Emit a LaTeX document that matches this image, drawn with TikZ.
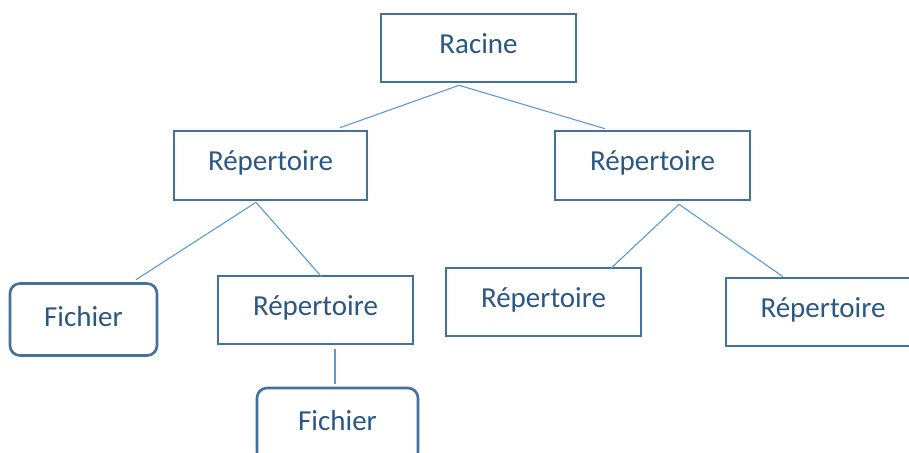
\documentclass[tikz,border=0pt]{standalone}
\usepackage{fontspec}
\setmainfont{Carlito}
\usetikzlibrary{calc}
\definecolor{boxline}{HTML}{41719C}
\definecolor{boxtext}{HTML}{2A5783}
\definecolor{linkline}{HTML}{5B9BD5}
\begin{document}
\begin{tikzpicture}[x=1pt,y=-1pt,
  every node/.style={font=\fontsize{29}{34}\selectfont, text=boxtext,
    inner sep=0pt, text height=20pt, text depth=10pt},
  dirbox/.style={draw=boxline, line width=2.6pt, fill=white},
  filebox/.style={draw=boxline, line width=2.6pt, fill=white, rounded corners=10pt},
  link/.style={draw=linkline, line width=1.1pt}]
\useasboundingbox (0,0) rectangle (909,452);
\fill[white] (0,0) rectangle (909,452);

% tree nodes
\node[dirbox, minimum width=195pt, minimum height=68pt] (root) at (478.5,48) {Racine};
\node[dirbox, minimum width=193pt, minimum height=69pt] (dl) at (270.5,165.5) {Répertoire};
\node[dirbox, minimum width=195pt, minimum height=69pt] (dr) at (652.5,165.5) {Répertoire};
\node[filebox, minimum width=147pt, minimum height=72pt, text height=22pt, text depth=8pt] (fa) at (83.5,319.5) {Fichier};
\node[dirbox, minimum width=195pt, minimum height=68pt] (dla) at (315.5,310) {Répertoire};
\node[filebox, minimum width=161pt, minimum height=74pt] (fb) at (337.5,425) {Fichier};
\node[dirbox, minimum width=195pt, minimum height=68pt] (dra) at (543.5,302) {Répertoire};
\node[dirbox, minimum width=194pt, minimum height=68pt] (drb) at (823,312) {Répertoire};

% connectors
\draw[link] ($(root.south)+(-19.5,2)$) -- ($(dl.north)+(69.5,-2)$);
\draw[link] ($(root.south)+(-19.5,2)$) -- ($(dr.north)+(-47.5,-1)$);
\draw[link] ($(dl.south)+(-14.5,1)$) -- ($(fa.north)+(52.5,-2.5)$);
\draw[link] ($(dl.south)+(-14.5,1)$) -- ($(dla.north)+(6,2)$);
\draw[link] ($(dla.south)+(19.5,4)$) -- ($(fb.north)+(-2.5,-3)$);
\draw[link] ($(dr.south)+(26.5,3)$) -- ($(dra.north)+(66.5,2.5)$);
\draw[link] ($(dr.south)+(26.5,3)$) -- ($(drb.north)+(-40,0)$);
\end{tikzpicture}
\end{document}
